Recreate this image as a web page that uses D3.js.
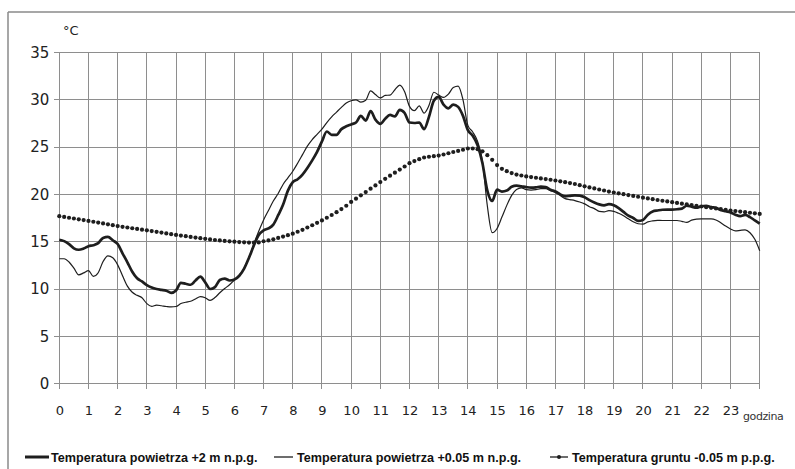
<!DOCTYPE html>
<html>
<head>
<meta charset="utf-8">
<script src="https://cdn.jsdelivr.net/npm/d3@7"></script>
<style>
  html, body { margin: 0; padding: 0; background: #fff; }
  svg { display: block; }
</style>
</head>
<body>
<svg id="chart" width="795" height="469"></svg>
<script>
// Daily course of temperature, 10-minute readings from 00:00 to 24:00
const hourTicks = d3.range(0, 24);          // 0 … 23
const tempTicks = [0, 5, 10, 15, 20, 25, 30, 35];

// Air temperature +2 m above ground
const air2m = [
  15.2, 15.06, 14.75, 14.3, 14.15, 14.28,
  14.52, 14.63, 14.85, 15.4, 15.5, 15.15,
  14.75, 13.77, 12.82, 11.82, 11.13, 10.8,
  10.4, 10.15, 10.0, 9.91, 9.82, 9.6,
  9.85, 10.65, 10.55, 10.45, 10.9, 11.3,
  10.7, 10.0, 10.2, 10.95, 11.1, 10.9,
  11.0, 11.4, 12.15, 13.3, 14.6, 15.7,
  16.2, 16.4, 16.8, 17.8, 18.9, 20.4,
  21.3, 21.6, 22.1, 22.8, 23.6, 24.5,
  25.6, 26.65, 26.3, 26.3, 26.9, 27.2,
  27.4, 27.6, 28.3, 27.8, 28.8, 27.9,
  27.45, 28.0, 28.4, 28.25, 28.94, 28.6,
  27.6, 27.55, 27.6, 26.9, 28.2, 29.9,
  30.3, 29.5, 29.1, 29.5, 29.25, 28.3,
  26.8, 26.2, 25.2, 23.3, 20.4, 19.3,
  20.5, 20.3, 20.4, 20.8, 20.92, 20.85,
  20.77, 20.72, 20.75, 20.83, 20.78, 20.5,
  20.3, 20.0, 19.8, 19.85, 19.9, 19.88,
  19.7, 19.4, 19.15, 18.95, 18.85, 18.97,
  18.85, 18.55, 18.15, 17.75, 17.5, 17.2,
  17.3, 17.85, 18.2, 18.3, 18.38, 18.4,
  18.4, 18.43, 18.5, 18.8, 18.7, 18.6,
  18.75, 18.8, 18.65, 18.58, 18.35, 18.22,
  18.1, 17.85, 17.7, 17.83, 17.6, 17.25,
  16.9
];

// Air temperature +0.05 m above ground
const air005m = [
  13.2, 13.2, 12.85, 12.2, 11.5, 11.7,
  11.95, 11.34, 11.72, 12.9, 13.5, 13.3,
  12.55, 11.4, 10.3, 9.65, 9.33, 9.07,
  8.45, 8.16, 8.3, 8.23, 8.15, 8.1,
  8.15, 8.46, 8.6, 8.7, 8.95, 9.2,
  9.08, 8.8, 9.1, 9.6, 10.05, 10.45,
  10.95, 11.45, 12.2, 13.3, 14.75, 16.1,
  17.3, 18.3, 19.3, 20.1, 21.05, 21.75,
  22.45, 23.3, 24.2, 25.1, 25.8, 26.35,
  26.9, 27.6, 28.2, 28.7, 29.2, 29.65,
  29.9, 30.0, 29.75, 29.95, 30.95, 30.55,
  30.2, 30.46, 30.5, 31.06, 31.55, 30.85,
  29.3, 28.85, 29.35, 28.6, 29.4, 30.8,
  30.5, 30.25, 30.6, 31.3, 31.45, 30.0,
  27.3, 26.6, 25.6, 23.5, 18.8, 15.95,
  16.4, 17.6, 18.84, 19.9, 20.53, 20.7,
  20.5, 20.45, 20.5, 20.6, 20.6, 20.4,
  20.2, 19.88, 19.55, 19.45, 19.35, 19.2,
  19.0, 18.7, 18.5, 18.2, 18.15, 18.28,
  18.2, 18.0, 17.75, 17.42, 17.1, 16.9,
  16.85, 17.1, 17.2, 17.25, 17.24, 17.24,
  17.24, 17.24, 17.15, 17.05, 17.28, 17.38,
  17.41, 17.41, 17.41, 17.3, 17.0, 16.65,
  16.35, 16.15, 16.2, 16.25, 15.95, 15.25,
  14.05
];

// Soil temperature -0.05 m below ground
const soil005m = [
  17.70, 17.62, 17.53, 17.45, 17.37, 17.29,
  17.20, 17.11, 17.02, 16.93, 16.84, 16.75,
  16.65, 16.57, 16.50, 16.42, 16.35, 16.27,
  16.20, 16.12, 16.04, 15.96, 15.88, 15.80,
  15.72, 15.65, 15.58, 15.51, 15.44, 15.37,
  15.30, 15.24, 15.18, 15.13, 15.08, 15.04,
  15.00, 14.96, 14.93, 14.91, 14.90, 14.92,
  15.05, 15.14, 15.25, 15.40, 15.54, 15.69,
  15.85, 16.05, 16.26, 16.50, 16.74, 16.99,
  17.25, 17.53, 17.82, 18.12, 18.45, 18.80,
  19.20, 19.55, 19.90, 20.25, 20.60, 20.95,
  21.30, 21.65, 21.98, 22.30, 22.62, 22.95,
  23.30, 23.52, 23.72, 23.90, 23.98, 24.04,
  24.10, 24.22, 24.35, 24.48, 24.60, 24.72,
  24.85, 24.85, 24.78, 24.55, 24.15, 23.65,
  23.10, 22.70, 22.45, 22.25, 22.10, 22.00,
  21.90, 21.83, 21.76, 21.69, 21.62, 21.55,
  21.47, 21.38, 21.29, 21.20, 21.10, 20.98,
  20.85, 20.74, 20.63, 20.52, 20.41, 20.30,
  20.20, 20.11, 20.02, 19.93, 19.84, 19.75,
  19.65, 19.57, 19.49, 19.41, 19.33, 19.26,
  19.18, 19.10, 19.02, 18.95, 18.87, 18.80,
  18.72, 18.65, 18.58, 18.51, 18.44, 18.37,
  18.30, 18.24, 18.18, 18.12, 18.06, 18.00,
  17.94
];

const legendLabels = [
  "Temperatura powietrza +2 m n.p.g.",
  "Temperatura powietrza +0.05 m n.p.g.",
  "Temperatura gruntu -0.05 m p.p.g."
];

const svg = d3.select("#chart");
const ink = "#1e1e1e";
const gridColor = "#8e8e8e";
const numFont = "'DejaVu Sans', sans-serif";

const x = d3.scaleLinear().domain([0, 24]).range([59.3, 759.7]);
const y = d3.scaleLinear().domain([0, 35]).range([383.6, 52.5]);
const hourAt = i => i / 6;

// outer frame (left and top edges)
svg.append("line").attr("x1", 8).attr("x2", 8).attr("y1", 12).attr("y2", 469)
  .attr("stroke", "#8a8a8a").attr("stroke-width", 1.5);
svg.append("line").attr("x1", 8).attr("x2", 795).attr("y1", 12).attr("y2", 12)
  .attr("stroke", "#8a8a8a").attr("stroke-width", 1.5);

// vertical grid, running a little below the zero line
svg.append("g")
  .selectAll("line").data(d3.range(0, 25)).join("line")
  .attr("x1", d => x(d)).attr("x2", d => x(d))
  .attr("y1", y(35)).attr("y2", y(0) + 5)
  .attr("stroke", gridColor).attr("stroke-width", 1)
  .attr("shape-rendering", "crispEdges");

// horizontal grid with short ticks to the left
svg.append("g")
  .selectAll("line").data(tempTicks).join("line")
  .attr("x1", x(0) - 5).attr("x2", x(24))
  .attr("y1", d => y(d)).attr("y2", d => y(d))
  .attr("stroke", gridColor).attr("stroke-width", 1)
  .attr("shape-rendering", "crispEdges");

// y axis labels
const yAxis = d3.axisLeft(y).tickValues(tempTicks).tickSize(0).tickPadding(10);
const gy = svg.append("g").attr("transform", `translate(${x(0)},0)`).call(yAxis);
gy.select(".domain").remove();
gy.selectAll("text").attr("font-family", numFont).attr("font-size", 15)
  .attr("fill", "#222");

// x axis labels
const xAxis = d3.axisBottom(x).tickValues(hourTicks).tickSize(0).tickPadding(22);
const gx = svg.append("g").attr("transform", `translate(0,${y(0)})`).call(xAxis);
gx.select(".domain").remove();
gx.selectAll("text").attr("font-family", numFont).attr("font-size", 13)
  .attr("fill", "#222");

// unit labels
svg.append("text").attr("x", 63).attr("y", 35).text("°C")
  .attr("font-family", numFont).attr("font-size", 13).attr("fill", "#222");
svg.append("text").attr("x", 743).attr("y", 420).text("godzina")
  .attr("font-family", numFont).attr("font-size", 11).attr("fill", "#333")
  .attr("letter-spacing", -0.4);

// data lines
const line = d3.line()
  .x((d, i) => x(hourAt(i)))
  .y(d => y(d))
  .curve(d3.curveMonotoneX);

svg.append("path").datum(air005m).attr("d", line)
  .attr("fill", "none").attr("stroke", ink).attr("stroke-width", 1.2)
  .attr("stroke-linejoin", "round");

svg.append("path").datum(air2m).attr("d", line)
  .attr("fill", "none").attr("stroke", ink).attr("stroke-width", 2.7)
  .attr("stroke-linejoin", "round");

svg.append("g").selectAll("circle").data(soil005m).join("circle")
  .attr("cx", (d, i) => x(hourAt(i))).attr("cy", d => y(d))
  .attr("r", 2.1).attr("fill", ink);

// legend
const legendY = 457;
const legendFont = "'Liberation Sans', Arial, sans-serif";
const lg = svg.append("g");
lg.append("line").attr("x1", 25).attr("x2", 49).attr("y1", legendY).attr("y2", legendY)
  .attr("stroke", ink).attr("stroke-width", 3);
lg.append("line").attr("x1", 274).attr("x2", 293).attr("y1", legendY).attr("y2", legendY)
  .attr("stroke", ink).attr("stroke-width", 1.3);
lg.append("line").attr("x1", 550).attr("x2", 568).attr("y1", legendY).attr("y2", legendY)
  .attr("stroke", ink).attr("stroke-width", 1.3);
lg.append("circle").attr("cx", 559).attr("cy", legendY).attr("r", 2).attr("fill", ink);

const legendX = [51, 297, 572];
lg.selectAll("text").data(legendLabels).join("text")
  .attr("x", (d, i) => legendX[i]).attr("y", legendY + 4.5)
  .text(d => d)
  .attr("font-family", legendFont).attr("font-weight", "bold")
  .attr("font-size", 12.6).attr("fill", "#111");
</script>
</body>
</html>
